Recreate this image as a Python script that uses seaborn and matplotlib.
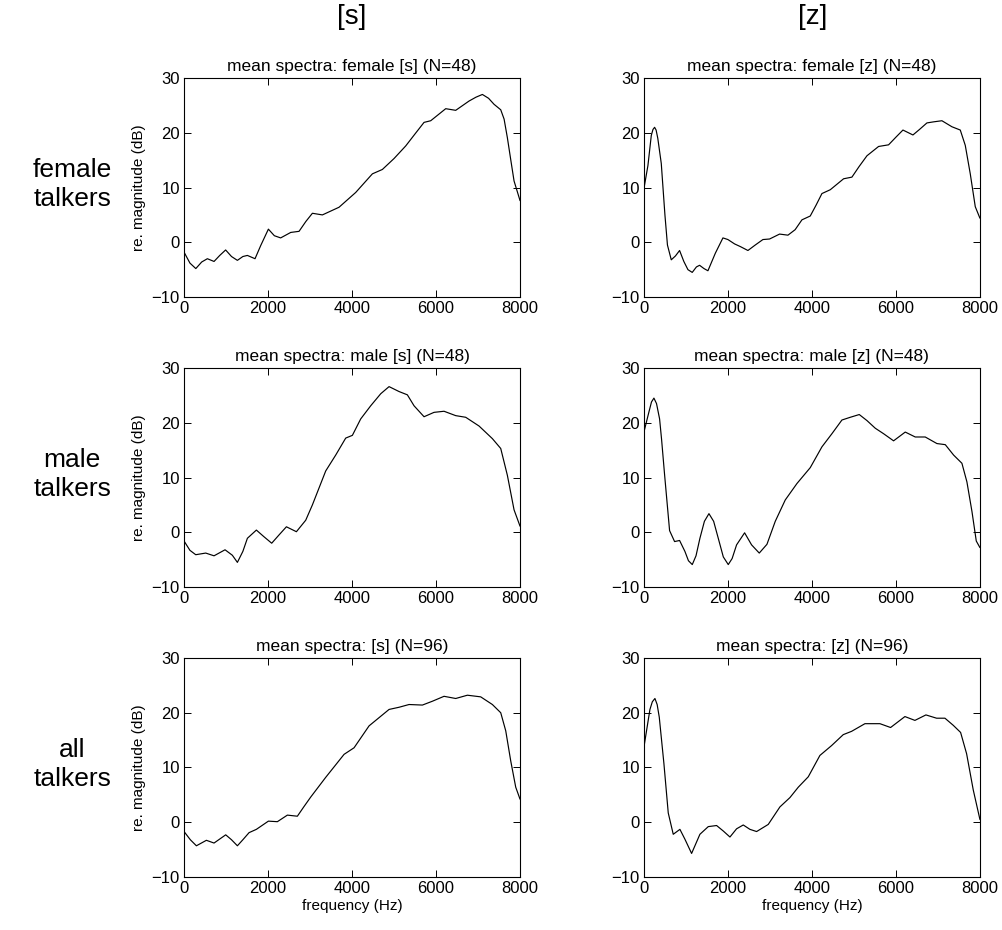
import numpy as np
import pandas as pd
import seaborn as sns
import matplotlib.pyplot as plt

# 读出来的曲线数据 (Hz, dB)
female_s_hz = [0, 140, 280, 420, 555, 714, 850, 990, 1130, 1270, 1400, 1508, 1690, 1825, 2008, 2150, 2300, 2540, 2738, 2900, 3056, 3294, 3690, 4087, 4484, 4722, 5000, 5278, 5500, 5714, 5873, 6230, 6468, 6786, 6950, 7103, 7250, 7381, 7540, 7620, 7698, 7780, 7857, 8000]
female_s_db = [-1.8, -3.8, -4.8, -3.6, -3.0, -3.5, -2.4, -1.4, -2.6, -3.3, -2.6, -2.4, -3.0, -0.6, 2.4, 1.2, 0.8, 1.8, 2.0, 3.8, 5.3, 5.0, 6.4, 9.1, 12.5, 13.3, 15.3, 17.6, 19.8, 21.9, 22.2, 24.4, 24.1, 25.8, 26.5, 27.0, 26.3, 25.2, 24.2, 22.5, 19.1, 15.0, 11.2, 7.6]

female_z_hz = [0, 95, 175, 215, 254, 290, 330, 413, 500, 560, 651, 750, 849, 950, 1048, 1150, 1250, 1325, 1430, 1524, 1700, 1881, 2000, 2159, 2300, 2476, 2650, 2833, 2992, 3230, 3429, 3600, 3762, 3960, 4100, 4238, 4437, 4754, 4952, 5120, 5310, 5587, 5825, 6000, 6167, 6405, 6560, 6738, 6900, 7095, 7333, 7532, 7651, 7770, 7889, 8000]
female_z_db = [9.8, 14.0, 19.5, 20.6, 21.0, 20.5, 19.0, 14.4, 5.0, -0.5, -3.2, -2.5, -1.5, -3.5, -5.0, -5.5, -4.5, -4.2, -4.8, -5.2, -2.0, 0.8, 0.5, -0.3, -0.8, -1.5, -0.5, 0.5, 0.6, 1.5, 1.3, 2.3, 4.1, 4.8, 6.8, 8.9, 9.6, 11.6, 11.9, 13.8, 15.8, 17.5, 17.8, 19.2, 20.5, 19.6, 20.6, 21.8, 22.0, 22.2, 21.1, 20.5, 17.7, 12.5, 6.5, 4.4]

male_s_hz = [0, 140, 278, 516, 714, 976, 1150, 1270, 1400, 1508, 1722, 1900, 2087, 2260, 2437, 2675, 2897, 3056, 3373, 3611, 3849, 4008, 4206, 4444, 4683, 4881, 5119, 5317, 5476, 5714, 5952, 6190, 6468, 6706, 7024, 7341, 7540, 7698, 7857, 8000]
male_s_db = [-1.6, -3.3, -4.1, -3.8, -4.3, -3.2, -4.2, -5.5, -3.5, -1.1, 0.4, -0.8, -2.0, -0.5, 1.0, 0.1, 2.2, 5.0, 11.2, 14.1, 17.2, 17.7, 20.7, 23.1, 25.3, 26.6, 25.7, 25.1, 23.1, 21.1, 21.9, 22.1, 21.3, 21.0, 19.4, 17.1, 15.3, 10.4, 4.1, 1.1]

male_z_hz = [0, 120, 180, 238, 300, 373, 421, 492, 611, 730, 849, 976, 1060, 1151, 1240, 1333, 1440, 1548, 1660, 1770, 1890, 2008, 2100, 2206, 2397, 2563, 2746, 2929, 3127, 3365, 3643, 3960, 4238, 4476, 4714, 4913, 5127, 5310, 5508, 5706, 5944, 6222, 6460, 6698, 6976, 7175, 7373, 7571, 7690, 7810, 7913, 8000]
male_z_db = [18.3, 22.0, 23.8, 24.5, 23.5, 20.7, 16.9, 10.5, 0.3, -1.7, -1.5, -3.5, -5.2, -5.9, -4.3, -1.1, 2.0, 3.4, 2.0, -1.1, -4.5, -5.9, -4.8, -2.3, -0.1, -2.3, -3.8, -2.2, 2.0, 5.9, 8.9, 11.8, 15.6, 18.0, 20.5, 21.0, 21.5, 20.4, 19.0, 18.0, 16.7, 18.3, 17.4, 17.4, 16.2, 16.0, 14.1, 12.6, 9.2, 3.8, -1.6, -2.8]

all_s_hz = [0, 150, 294, 532, 714, 992, 1130, 1270, 1400, 1548, 1722, 2008, 2222, 2460, 2698, 2850, 3016, 3373, 3810, 4048, 4405, 4643, 4881, 5119, 5357, 5675, 5913, 6190, 6468, 6746, 7063, 7341, 7540, 7659, 7778, 7897, 8000]
all_s_db = [-1.7, -3.2, -4.3, -3.3, -3.8, -2.3, -3.2, -4.3, -3.2, -1.9, -1.3, 0.2, 0.1, 1.3, 1.1, 2.8, 4.6, 8.2, 12.4, 13.6, 17.6, 19.1, 20.6, 21.0, 21.5, 21.4, 22.1, 23.0, 22.6, 23.2, 22.9, 21.5, 20.0, 16.7, 11.2, 6.4, 4.2]

all_z_hz = [0, 143, 200, 262, 315, 365, 476, 579, 698, 857, 976, 1135, 1333, 1532, 1730, 1889, 2048, 2206, 2365, 2524, 2683, 2960, 3238, 3476, 3675, 3913, 4190, 4468, 4746, 4944, 5262, 5619, 5873, 6214, 6452, 6714, 6968, 7167, 7365, 7540, 7683, 7841, 8000]
all_z_db = [13.7, 20.6, 22.0, 22.6, 21.5, 19.2, 10.7, 1.7, -2.2, -1.3, -3.1, -5.7, -2.2, -0.8, -0.6, -1.6, -2.7, -1.2, -0.5, -1.3, -1.7, -0.4, 2.8, 4.5, 6.4, 8.3, 12.2, 14.0, 16.0, 16.6, 18.0, 18.0, 17.3, 19.3, 18.6, 19.6, 19.0, 19.0, 17.7, 16.4, 12.5, 5.9, 0.5]

titles = [["mean spectra: female [s] (N=48)", "mean spectra: female [z] (N=48)"],
          ["mean spectra: male [s] (N=48)", "mean spectra: male [z] (N=48)"],
          ["mean spectra: [s] (N=96)", "mean spectra: [z] (N=96)"]]
col_labels = ["[s]", "[z]"]
row_labels = ["female\ntalkers", "male\ntalkers", "all\ntalkers"]
x_ticks = [0, 2000, 4000, 6000, 8000]
y_ticks = [-10, 0, 10, 20, 30]

curves = [[(female_s_hz, female_s_db), (female_z_hz, female_z_db)],
          [(male_s_hz, male_s_db), (male_z_hz, male_z_db)],
          [(all_s_hz, all_s_db), (all_z_hz, all_z_db)]]

sns.set_style("white")
plt.rcParams['font.family'] = ['Liberation Sans', 'DejaVu Sans']
plt.rcParams['text.color'] = 'black'
plt.rcParams['axes.labelcolor'] = 'black'
plt.rcParams['xtick.color'] = 'black'
plt.rcParams['ytick.color'] = 'black'

fig = plt.figure(figsize=(10.03, 9.30), dpi=100)

lefts = [0.1835, 0.642]
bottoms = [0.6806, 0.3688, 0.0570]
w, h = 0.335, 0.2355

for r in range(3):
    for c in range(2):
        ax = fig.add_axes([lefts[c], bottoms[r], w, h])
        hz, db = curves[r][c]
        sns.lineplot(x=hz, y=db, ax=ax, color='black', linewidth=0.85)
        ax.set_xlim(0, 8000)
        ax.set_ylim(-10, 30)
        ax.set_xticks(x_ticks)
        ax.set_yticks(y_ticks)
        ax.tick_params(direction='in', bottom=True, left=True, top=True, right=True,
                       length=5, labelsize=12, width=0.7, pad=3, colors='black')
        for s in ax.spines.values():
            s.set_color('black')
            s.set_linewidth(0.8)
        ax.set_title(titles[r][c], fontsize=12.5, pad=5, color='black')
        if c == 0:
            ax.set_ylabel("re. magnitude (dB)", fontsize=11, labelpad=4)
        if r == 2:
            ax.set_xlabel("frequency (Hz)", fontsize=11, labelpad=2)

fig.text(0.351, 0.982, col_labels[0], fontsize=20, ha='center', va='center')
fig.text(0.810, 0.982, col_labels[1], fontsize=20, ha='center', va='center')
for r, lab in enumerate(row_labels):
    fig.text(0.072, bottoms[r] + h / 2 + 0.003, lab, fontsize=19,
             ha='center', va='center', linespacing=1.25)

fig.savefig("out.png", dpi=100, facecolor='white')
